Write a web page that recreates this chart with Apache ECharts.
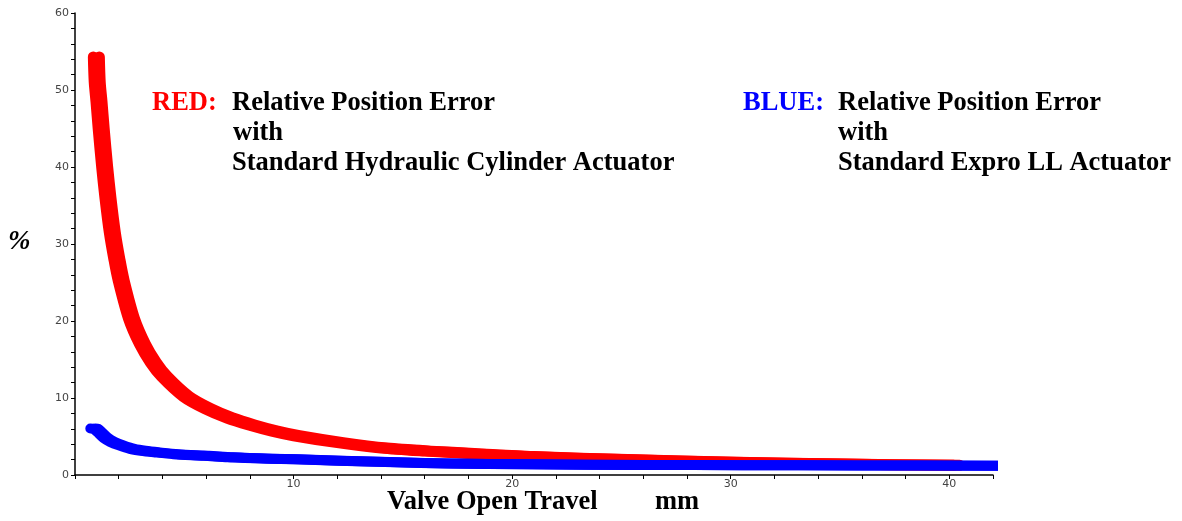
<!DOCTYPE html>
<html>
<head>
<meta charset="utf-8">
<script src="https://cdn.jsdelivr.net/npm/echarts@6/dist/echarts.min.js"></script>
<style>
html,body{margin:0;padding:0;background:#fff;}
#chart{width:1182px;height:521px;}
</style>
</head>
<body>
<div id="chart"></div>
<script>
// Red: Standard Hydraulic Cylinder Actuator  [travel mm, error %]
const redSeries = [
  [0.84, 54.3], [0.88, 51.0], [0.96, 48.5], [1.06, 45.0], [1.22, 40.0],
  [1.37, 36.0], [1.57, 31.5], [1.78, 28.0], [1.98, 25.2], [2.45, 20.3],
  [2.95, 17.0], [3.45, 14.6], [3.95, 12.8], [4.95, 10.2], [5.95, 8.6],
  [6.95, 7.4], [7.95, 6.5], [9.0, 5.7], [10, 5.1], [12, 4.2],
  [14, 3.5], [16, 3.1], [18, 2.8], [20.7, 2.4], [25, 2.0],
  [30, 1.65], [35, 1.42], [40.2, 1.26]
];
// Blue: Standard Expro LL Actuator
const blueSeries = [
  [0.7, 6.05], [0.83, 6.0], [1.0, 5.6], [1.3, 4.8], [1.6, 4.3],
  [2.0, 3.85], [2.5, 3.4], [3.0, 3.15], [3.6, 2.95], [4.5, 2.7],
  [5.9, 2.5], [7.0, 2.3], [8.8, 2.12], [10, 2.05], [12, 1.85],
  [14.6, 1.65], [17, 1.5], [20.7, 1.4], [26, 1.3], [30.4, 1.28],
  [35.8, 1.25], [42.2, 1.2]
];
const xTickLabels = [0, 10, 20, 30, 40];
const yTickLabels = [0, 10, 20, 30, 40, 50, 60];

const labelFont = {color: '#444', fontSize: 11, fontFamily: 'DejaVu Sans'};

function xAxisCfg(inside, show) {
  return {
    type: 'value', min: 0, max: 42, interval: 2,
    axisLine: {show: show, lineStyle: {color: '#000', width: 1.5}},
    axisTick: {show: true, inside: inside, length: 4, lineStyle: {color: '#000', width: 1}},
    axisLabel: {show: show, margin: 4, ...labelFont, showMinLabel: false,
      formatter: v => xTickLabels.indexOf(v) >= 0 ? String(v) : ''},
    splitLine: {show: false}
  };
}
function yAxisCfg(inside, show) {
  return {
    type: 'value', min: 0, max: 60, interval: 2,
    axisLine: {show: show, lineStyle: {color: '#000', width: 1.5}},
    axisTick: {show: true, inside: inside, length: 4, lineStyle: {color: '#000', width: 1}},
    axisLabel: {show: show, margin: 6, ...labelFont,
      formatter: v => yTickLabels.indexOf(v) >= 0 ? String(v) : ''},
    splitLine: {show: false}
  };
}

const chart = echarts.init(document.getElementById('chart'));
const F = 'bold 26.5px "Liberation Serif"';
chart.setOption({
  animation: false,
  backgroundColor: '#fff',
  grid: {left: 75, right: 189, top: 13, bottom: 46, containLabel: false},
  xAxis: [xAxisCfg(false, true), xAxisCfg(true, false)],
  yAxis: [yAxisCfg(false, true), yAxisCfg(true, false)],
  series: [
    {type: 'line', data: redSeries, smooth: 0.3, symbol: 'none', clip: false,
     lineStyle: {color: '#ff0000', width: 11, cap: 'round', join: 'round',
       shadowColor: '#ff0000', shadowBlur: 0, shadowOffsetX: 6}},
    {type: 'line', data: blueSeries, smooth: 0.3, symbol: 'none', clip: false,
     lineStyle: {color: '#0000ff', width: 10, cap: 'round', join: 'round',
       shadowColor: '#0000ff', shadowBlur: 0, shadowOffsetX: 5}}
  ],
  graphic: [
    {type: 'text', left: 8, top: 229, style: {text: '%', font: 'italic bold 27px "Liberation Serif"', fill: '#000'}},
    {type: 'text', left: 387, top: 489, style: {text: 'Valve Open Travel', font: F, fill: '#000'}},
    {type: 'text', left: 655, top: 489, style: {text: 'mm', font: F, fill: '#000'}},
    {type: 'text', left: 152, top: 90, style: {text: 'RED:', font: F, fill: '#ff0000'}},
    {type: 'text', left: 232, top: 90, style: {text: 'Relative Position Error', font: F, fill: '#000'}},
    {type: 'text', left: 233, top: 120, style: {text: 'with', font: F, fill: '#000'}},
    {type: 'text', left: 232, top: 150, style: {text: 'Standard Hydraulic Cylinder Actuator', font: F, fill: '#000'}},
    {type: 'text', left: 743, top: 90, style: {text: 'BLUE:', font: F, fill: '#0000ff'}},
    {type: 'text', left: 838, top: 90, style: {text: 'Relative Position Error', font: F, fill: '#000'}},
    {type: 'text', left: 838, top: 120, style: {text: 'with', font: F, fill: '#000'}},
    {type: 'text', left: 838, top: 150, style: {text: 'Standard Expro LL Actuator', font: F, fill: '#000'}}
  ]
});
</script>
</body>
</html>
